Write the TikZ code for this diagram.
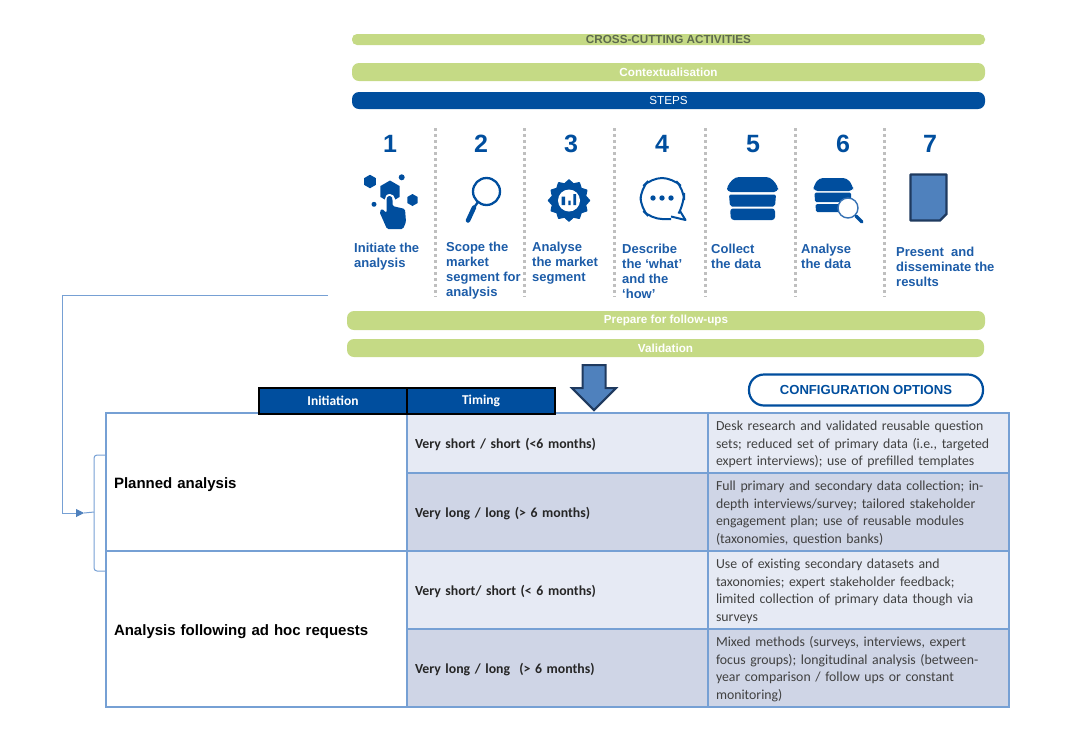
\documentclass[tikz,border=0pt]{standalone}
\usepackage{fontspec}
\usepackage{xcolor}
\setmainfont{Liberation Sans}
\newfontfamily\tabfont{Carlito}
\usetikzlibrary{shapes.geometric, shapes.arrows, arrows.meta, positioning, calc}
\definecolor{stepblue}{HTML}{004E9E}
\definecolor{labelblue}{HTML}{1C5CA8}
\definecolor{lime}{HTML}{C5DA85}
\definecolor{crosstext}{HTML}{5E6B4D}
\definecolor{cellline}{HTML}{76A0D4}
\definecolor{celllight}{HTML}{E6EAF4}
\definecolor{celldark}{HTML}{CFD5E6}
\definecolor{docfill}{HTML}{4F81BD}
\definecolor{docline}{HTML}{1F3A5F}
\tikzstyle{bar} = [rectangle, rounded corners=7pt, minimum width=633pt, inner sep=0pt, outer sep=0pt, text centered, fill=lime, text=white, font=\fontsize{11.7}{13}\selectfont\bfseries]
\tikzstyle{num} = [inner sep=0pt, text=stepblue, font=\fontsize{25}{28}\selectfont\bfseries]
\tikzstyle{lab} = [anchor=north west, inner sep=0pt, align=left, text=labelblue, font=\fontsize{13}{15.2}\selectfont\bfseries]
\tikzstyle{sep} = [line width=3pt, color=black!25, dash pattern=on 3pt off 3pt]
\tikzstyle{hex} = [regular polygon, regular polygon sides=6, shape border rotate=30, fill=stepblue, inner sep=0pt]
\tikzstyle{head} = [rectangle, draw=black, line width=1.4pt, fill=stepblue, text=white, minimum width=148pt, minimum height=26pt, inner sep=0pt, outer sep=0pt, font=\tabfont\fontsize{13.5}{15}\selectfont\bfseries]
\tikzstyle{cell} = [rectangle, draw=cellline, line width=1.3pt, inner xsep=8pt, inner ysep=0pt, outer sep=0pt, text width=285pt, align=left]
\tikzstyle{init} = [cell, fill=white, font=\fontsize{15}{17}\selectfont\bfseries, execute at begin node={\rule{0pt}{17pt}}]
\tikzstyle{time} = [cell, text=black!85, font=\tabfont\fontsize{13.8}{17.5}\selectfont\bfseries, execute at begin node={\rule{0pt}{12.5pt}}]
\tikzstyle{conf} = [cell, text=black!75, font=\tabfont\fontsize{13.8}{17.5}\selectfont, execute at begin node={\rule{0pt}{12.5pt}}]
\tikzstyle{conn} = [draw=cellline, line width=1pt]
\tikzstyle{arr} = [conn, -{Stealth[length=8pt, width=8pt, inset=0pt, fill=docfill, color=docfill]}]
\begin{document}
\begin{tikzpicture}[x=1pt, y=-1pt]
  \useasboundingbox (0,0) rectangle (1080,740);
  % Bars on top
  \node[bar, minimum height=11pt, rounded corners=5pt, text=crosstext] (cross) at (668.5,39.5) {CROSS-CUTTING ACTIVITIES};
  \node[bar, minimum height=18pt, below=18pt of cross] (context) {Contextualisation};
  \node[bar, minimum height=17pt, fill=stepblue, below=11pt of context, font=\fontsize{11.7}{13}\selectfont] (steps) {STEPS};
  % Step numbers
  \node[num] (n1) at (390,144) {1};
  \node[num] (n2) at (481,144) {2};
  \node[num] (n3) at (571,144) {3};
  \node[num] (n4) at (662,144) {4};
  \node[num] (n5) at (753,144) {5};
  \node[num] (n6) at (843,144) {6};
  \node[num] (n7) at (930,144) {7};
  % Step labels
  \node[lab] (l1) at (354,242.5) {Initiate the\\analysis};
  \node[lab] (l2) at (446,241.5) {Scope the\\market\\segment for\\analysis};
  \node[lab] (l3) at (532,241.5) {Analyse\\the market\\segment};
  \node[lab] (l4) at (622,243.5) {Describe\\the ‘what’\\and the\\‘how’};
  \node[lab] (l5) at (711,243.5) {Collect\\the data};
  \node[lab] (l6) at (801,243.5) {Analyse\\the data};
  \node[lab] (l7) at (896,246.5) {Present~ and\\disseminate the\\results};
  % Dotted separators
  \draw[sep] (435,128) -- (435,297);
  \draw[sep] (524.5,128) -- (524.5,297);
  \draw[sep] (614,128) -- (614,297);
  \draw[sep] (705,128) -- (705,297);
  \draw[sep] (795,128) -- (795,297);
  \draw[sep] (884,128) -- (884,297);
  % Icon 1: hand and hexagons
  \node[hex, minimum size=13.5pt] (hexa) at (370,181.5) {};
  \node[hex, minimum size=22pt] (hexb) at (390,191.5) {};
  \node[hex, minimum size=12pt] (hexc) at (412.5,200) {};
  \fill[stepblue] (401.7,177.3) circle (3pt) (374,204.3) circle (2.5pt);
  \draw[white, line width=10pt, line cap=round] (389.5,199) -- (389.5,209);
  \fill[stepblue, rounded corners=1.5pt] (386.5,199) -- (387.5,196) -- (391.5,196) -- (392.5,199) -- (392.5,206) -- (405,209) -- (406,222) -- (403,229) -- (387,229) -- (379.5,212) -- (382,208.5) -- (386.5,213) -- cycle;
  % Icon 2: magnifier
  \draw[stepblue, line width=2.3pt] (486.5,191.5) circle (13.5pt);
  \draw[stepblue, line width=2.3pt] (478,202) -- (473,209);
  \draw[stepblue, line width=4.5pt, line cap=round] (474,207.5) -- (468,220.5);
  % Icon 3: gear
  \node[star, star points=12, star point ratio=1.2, draw=stepblue, line width=1.5pt, line join=round, fill=stepblue, inner sep=0pt, minimum size=41pt] (gear) at (569,200.5) {};
  \fill[white] (569,200.5) circle (11pt);
  \fill[stepblue] (561.7,196.7) rectangle (565,205) (568.3,200.7) rectangle (570.7,205) (573.3,194) rectangle (576,205);
  % Icon 4: speech bubble
  \draw[stepblue, line width=2pt, rounded corners=11pt] (671,219) -- (651,219) -- (640.5,208) -- (640.5,189) -- (651,178) -- (673,178) -- (684,189) -- (684,204) -- (680,211);
  \draw[stepblue, line width=2pt, line join=round] (680,211) -- (685.5,220) -- (671,216.5);
  \fill[stepblue] (653,198) circle (2.7pt) (662,198) circle (2.7pt) (671,198) circle (2.7pt);
  % Icon 5: collect
  \fill[stepblue, rounded corners=4pt] (735,177) -- (770,177) -- (778,186) -- (778,192) -- (727,192) -- (727,186) -- cycle;
  \fill[stepblue, rounded corners=2pt] (729,194.5) -- (776,194.5) -- (775,206.5) -- (730,206.5) -- cycle;
  \fill[stepblue, rounded corners=3pt] (730,208.5) -- (775,208.5) -- (775,220) -- (731,220) -- cycle;
  % Icon 6: analyse
  \fill[stepblue, rounded corners=4pt] (819,178) -- (847,178) -- (853,186) -- (853,191) -- (813.5,191) -- (813.5,186) -- cycle;
  \fill[stepblue, rounded corners=1.5pt] (814.5,192.5) -- (851,192.5) -- (851,202) -- (815,202) -- cycle;
  \fill[stepblue, rounded corners=1.5pt] (815.5,204) -- (842,204) -- (842,212) -- (816,212) -- cycle;
  \draw[docfill!70!stepblue, line width=1.4pt, fill=white] (848,208) circle (10pt);
  \draw[stepblue, line width=3.5pt, line cap=round] (856,216) -- (862,222);
  % Icon 7: document
  \draw[draw=docline, fill=docfill, line width=2.4pt, line join=round] (910.5,174.5) -- (946.5,174.5) -- (946.5,214) -- (940,220.5) -- (910.5,220.5) -- cycle;
  % Lower bars
  \node[bar, minimum width=638pt, minimum height=19pt] (prep) at (666,320.5) {Prepare for follow-ups};
  \node[bar, minimum width=637pt, minimum height=18pt, below=9pt of prep.south west, anchor=north west] (valid) {Validation};
  % Down arrow
  \node[single arrow, shape border rotate=270, draw=docline, fill=docfill, line width=2pt, inner sep=0pt, text width=21pt, minimum height=45pt, minimum width=42pt, single arrow head extend=10.5pt, single arrow tip angle=90, anchor=tip] (down) at (594,411.5) {};
  % Configuration label
  \node[rectangle, rounded corners=15pt, draw=stepblue, fill=white, line width=2.2pt, text=stepblue, minimum width=234pt, minimum height=31pt, inner sep=0pt, font=\fontsize{13.1}{15}\selectfont\bfseries] (config) at (866,390) {CONFIGURATION OPTIONS};
  % Table
  \node[init, minimum height=138pt] (plan) at (256.5,482) {Planned analysis};
  \node[init, minimum height=156pt, below=0pt of plan] (adhoc) {Analysis following ad hoc requests};
  \node[time, fill=celllight, minimum height=60pt] (t1) at (557.5,443) {Very short / short (<6 months)};
  \node[time, fill=celldark, minimum height=78pt, below=0pt of t1] (t2) {Very long / long (> 6 months)};
  \node[time, fill=celllight, minimum height=78pt, below=0pt of t2] (t3) {Very short/ short (< 6 months)};
  \node[time, fill=celldark, minimum height=78pt, below=0pt of t3] (t4) {Very long / long~ (> 6 months)};
  \node[conf, fill=celllight, minimum height=60pt, right=0pt of t1] (c1) {Desk research and validated reusable question\\sets; reduced set of primary data (i.e., targeted\\expert interviews); use of prefilled templates};
  \node[conf, fill=celldark, minimum height=78pt, right=0pt of t2] (c2) {Full primary and secondary data collection; in-\\depth interviews/survey; tailored stakeholder\\engagement plan; use of reusable modules\\(taxonomies, question banks)};
  \node[conf, fill=celllight, minimum height=78pt, right=0pt of t3] (c3) {Use of existing secondary datasets and\\taxonomies; expert stakeholder feedback;\\limited collection of primary data though via\\surveys};
  \node[conf, fill=celldark, minimum height=78pt, right=0pt of t4] (c4) {Mixed methods (surveys, interviews, expert\\focus groups); longitudinal analysis (between-\\year comparison / follow ups or constant\\monitoring)};
  % Header row
  \node[head] (hinit) at (333,401) {Initiation};
  \node[head, right=0pt of hinit] (htime) {Timing};
  % Feedback line and bracket
  \coordinate (fbstart) at (328,295);
  \coordinate (fbcorner) at (62,513);
  \coordinate (fbend) at (84,513);
  \coordinate (brtip) at (94,512);
  \coordinate (brtop) at (94,455);
  \coordinate (brbot) at (94,571);
  \draw[arr] (fbstart) -| (fbcorner) -- (fbend);
  \draw[conn] (fbend) -- (brtip);
  \draw[conn, rounded corners=3pt] (plan.west |- brtop) -- (brtop) -- (brbot) -- (plan.west |- brbot);
\end{tikzpicture}
\end{document}
